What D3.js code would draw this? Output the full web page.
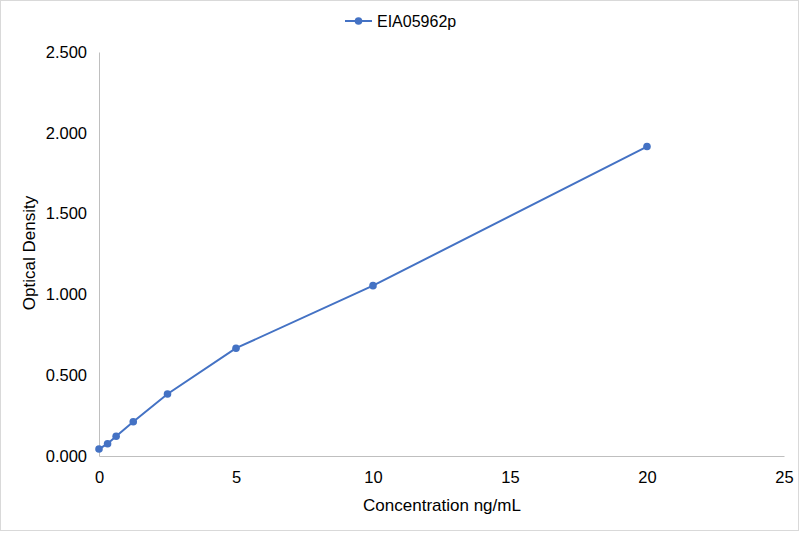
<!DOCTYPE html>
<html lang="en">
<head>
<meta charset="UTF-8">
<title>EIA05962p standard curve</title>
<script src="https://d3js.org/d3.v7.min.js"></script>
<style>
    body{ margin:0; background:#fff; }
    text{ font-family: "Liberation Sans", Arial, sans-serif; fill:#000; }
    .tick text{ font-size:16.5px; }
    .axis-title{ font-size:17px; }
</style>
</head>
<body>
<div id="fig"></div>
<script>
    // standard curve readings
    let seriesName = "EIA05962p"
    let concentration = [0, 0.3125, 0.625, 1.25, 2.5, 5, 10, 20]
    let density = [0.043, 0.076, 0.122, 0.212, 0.384, 0.667, 1.054, 1.915]
    let xTicks = [0, 5, 10, 15, 20, 25]
    let yTicks = [0, 0.5, 1.0, 1.5, 2.0, 2.5]

    let W = 801, H = 533
    let padL = 99, padR = 784, padT = 52, padB = 456
    let blue = "#4472c4"

    let svg = d3.select("#fig").append("svg")
        .attr("width", W).attr("height", H)

    svg.append("rect")
        .attr("x", 0.5).attr("y", 0.5)
        .attr("width", W - 3).attr("height", H - 3)
        .attr("fill", "#fff").attr("stroke", "#d9d9d9")

    let x = d3.scaleLinear().domain([0, 25]).range([padL, padR])
    let y = d3.scaleLinear().domain([0, 2.5]).range([padB, padT])

    let xAxis = svg.append("g")
        .attr("transform", `translate(0,${padB})`)
        .call(d3.axisBottom(x).tickValues(xTicks).tickSize(0).tickPadding(15).tickFormat(d3.format("d")))
    xAxis.select(".domain").attr("stroke", "#bfbfbf").attr("stroke-width", 1)

    let yAxis = svg.append("g")
        .attr("transform", `translate(${padL},0)`)
        .call(d3.axisLeft(y).tickValues(yTicks).tickSize(0).tickPadding(12).tickFormat(d3.format(".3f")))
    yAxis.select(".domain").attr("stroke", "#bfbfbf").attr("stroke-width", 1)

    svg.selectAll(".tick text").attr("fill", "#000")

    let pts = concentration.map((c, i) => [c, density[i]])

    svg.append("path")
        .datum(pts)
        .attr("fill", "none")
        .attr("stroke", blue)
        .attr("stroke-width", 2)
        .attr("d", d3.line().x(d => x(d[0])).y(d => y(d[1])))

    svg.selectAll(".marker")
        .data(pts)
        .enter()
        .append("circle")
        .attr("class", "marker")
        .attr("cx", d => x(d[0]))
        .attr("cy", d => y(d[1]))
        .attr("r", 3.8)
        .attr("fill", blue)

    // axis titles
    svg.append("text")
        .attr("class", "axis-title")
        .attr("x", 442)
        .attr("y", 511)
        .attr("text-anchor", "middle")
        .text("Concentration ng/mL")

    svg.append("text")
        .attr("class", "axis-title")
        .attr("transform", `translate(35,253) rotate(-90)`)
        .attr("text-anchor", "middle")
        .text("Optical Density")

    // legend
    let lg = svg.append("g").attr("transform", "translate(345,21)")
    lg.append("line").attr("x1", 0).attr("x2", 27).attr("y1", 0).attr("y2", 0)
        .attr("stroke", blue).attr("stroke-width", 2)
    lg.append("circle").attr("cx", 13.5).attr("cy", 0).attr("r", 3.8).attr("fill", blue)
    lg.append("text").attr("x", 32).attr("y", 6).attr("font-size", "16px").text(seriesName)
</script>
</body>
</html>
